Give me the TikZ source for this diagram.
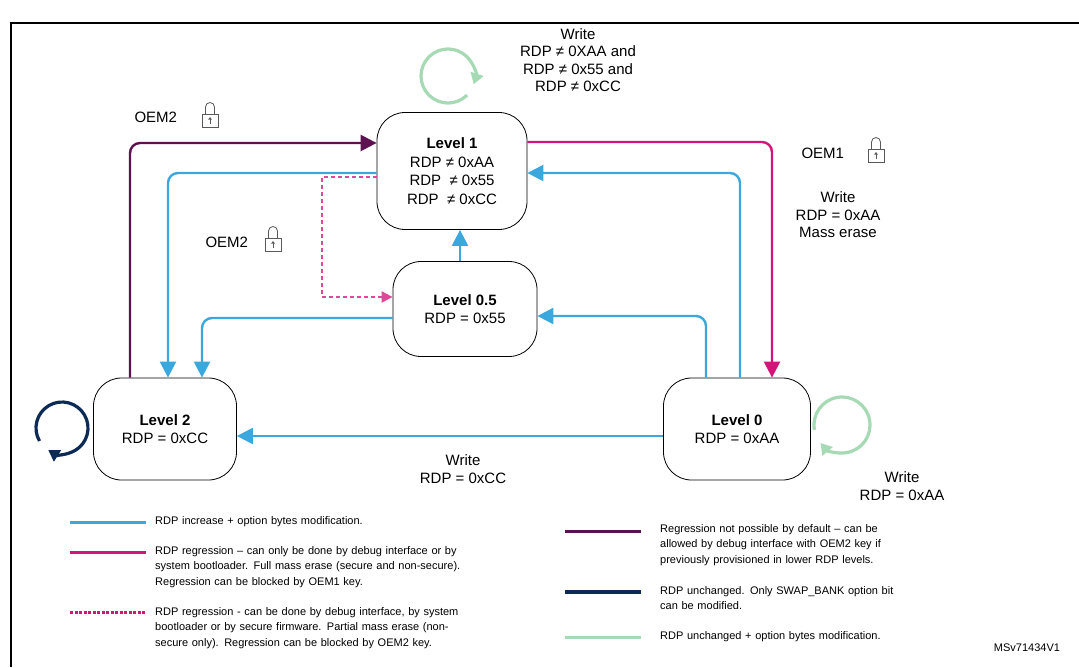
\documentclass[tikz,border=0pt]{standalone}
\usepackage{fontspec}
\setmainfont{Liberation Sans}
\usetikzlibrary{arrows.meta}
\definecolor{cblue}{HTML}{3AA8DC}
\definecolor{cpink}{HTML}{D3157A}
\definecolor{cdpink}{HTML}{E0489A}
\definecolor{cpurple}{HTML}{5C1250}
\definecolor{cnavy}{HTML}{0B2A55}
\definecolor{cgreen}{HTML}{A6DAB4}
\begin{document}
\begin{tikzpicture}[x=1pt,y=-1pt,
  lvl/.style={draw,rounded corners=28pt,thick,align=center,font=\fontsize{15}{18.5}\selectfont,inner sep=0pt},
  lab/.style={align=center,font=\fontsize{15}{17.5}\selectfont},
  leg/.style={anchor=north west,align=left,font=\fontsize{11}{15.5}\selectfont,inner sep=0pt,text width=#1},
  con/.style={line width=2.4pt,rounded corners=10pt,-{Triangle[length=16pt,width=16pt]}},
  loop/.style={line width=3.2pt,-{Triangle[length=11pt,width=13pt]}},
  lock/.pic={\draw[gray!70!black,line width=0.8pt] (-4.5,0) -- (-4.5,-7) arc[start angle=180,end angle=360,radius=4.5] -- (4.5,0);
    \draw[gray!70!black,line width=0.8pt,fill=white] (-8,0) rectangle (8,13);
    \draw[gray!70!black,line width=0.7pt] (0,10) -- (0,5); \fill[gray!70!black] (-1.8,5.5) -- (1.8,5.5) -- (0,3) -- cycle;}]
\useasboundingbox (0,0) rectangle (1079,667);
\draw[line width=1.5pt] (11,667) -- (11,23) -- (1079,23);
% nodes
\node[lvl,minimum width=150pt,minimum height=117pt] (L1) at (452,171) {\textbf{Level 1}\\RDP ≠ 0xAA\\RDP \ ≠ 0x55\\RDP \ ≠ 0xCC};
\node[lvl,minimum width=144pt,minimum height=95pt] (L05) at (465,309) {\textbf{Level 0.5}\\RDP = 0x55};
\node[lvl,minimum width=143pt,minimum height=102pt] (L2) at (165,429) {\textbf{Level 2}\\RDP = 0xCC};
\node[lvl,minimum width=147pt,minimum height=102pt] (L0) at (737,429) {\textbf{Level 0}\\RDP = 0xAA};
% connectors
\draw[con,cpurple] (L2.north -| 130,0) |- (L1.west |- 0,143);
\draw[con,cpink] (L1.east |- 0,142) -| (L0.north -| 772,0);
\draw[con,cblue] (L1.west |- 0,173) -| (L2.north -| 168,0);
\draw[con,cblue] (L0.north -| 740,0) |- (L1.east |- 0,173);
\draw[con,cblue] (L0.north -| 706,0) |- (L05.east |- 0,316);
\draw[con,cblue] (L05.west |- 0,318) -| (L2.north -| 202,0);
\draw[con,cblue,rounded corners=0pt] (L05.north -| 460,0) -- (L1.south -| 460,0);
\draw[con,cblue,rounded corners=0pt] (L0.west |- 0,436) -- (L2.east |- 0,436);
\draw[cdpink,line width=2pt,dash pattern=on 4pt off 3pt,-{Triangle[length=11pt,width=11pt]}] (L1.west |- 0,177) -- (322,177) -- (322,297) -- (L05.west |- 0,297);
% loops
\draw[loop,cgreen] (448,76) ++(-315:27) arc[start angle=-315,end angle=18,radius=27];
\draw[loop,cnavy] (62,428) ++(-210:26) arc[start angle=-210,end angle=122,radius=26];
\draw[loop,cgreen] (842,425) ++(-190:28) arc[start angle=-190,end angle=140,radius=28];
% labels
\node[lab] (t1) at (578,60) {Write\\RDP ≠ 0XAA and\\RDP ≠ 0x55 and\\RDP ≠ 0xCC};
\node[lab,anchor=west] (o2a) at (131,117) {OEM2};
\pic at (210,114) {lock};
\node[lab,anchor=west] (o1) at (798,153) {OEM1};
\pic at (876,149) {lock};
\node[lab] (t2) at (838,215) {Write\\RDP = 0xAA\\Mass erase};
\node[lab,anchor=west] (o2b) at (202,242) {OEM2};
\pic at (273,238) {lock};
\node[lab] (t3) at (463,469) {Write\\RDP = 0xCC};
\node[lab] (t4) at (902,486) {Write\\RDP = 0xAA};
% legend
\draw[cblue,line width=3pt] (70,522) -- (146,522);
\node[leg=390pt] at (155,516) {RDP increase + option bytes modification.};
\draw[cpink,line width=3pt] (70,552) -- (146,552);
\node[leg=390pt] at (155,546) {RDP regression – can only be done by debug interface or by\\system bootloader. Full mass erase (secure and non-secure).\\Regression can be blocked by OEM1 key.};
\draw[cpink,line width=3pt,dash pattern=on 3pt off 1.5pt] (70,612) -- (146,612);
\node[leg=390pt] at (155,607) {RDP regression - can be done by debug interface, by system\\bootloader or by secure firmware. Partial mass erase (non-\\secure only). Regression can be blocked by OEM2 key.};
\draw[cpurple,line width=3pt] (565,531) -- (641,531);
\node[leg=340pt] at (660,524) {Regression not possible by default – can be\\allowed by debug interface with OEM2 key if\\previously provisioned in lower RDP levels.};
\draw[cnavy,line width=3.5pt] (565,592) -- (641,592);
\node[leg=340pt] at (660,586) {RDP unchanged. Only SWAP\_BANK option bit\\can be modified.};
\draw[cgreen,line width=3pt] (565,637) -- (641,637);
\node[leg=340pt] at (660,631) {RDP unchanged + option bytes modification.};
\node[font=\fontsize{11}{12}\selectfont] at (1027,648) {MSv71434V1};
\end{tikzpicture}
\end{document}
